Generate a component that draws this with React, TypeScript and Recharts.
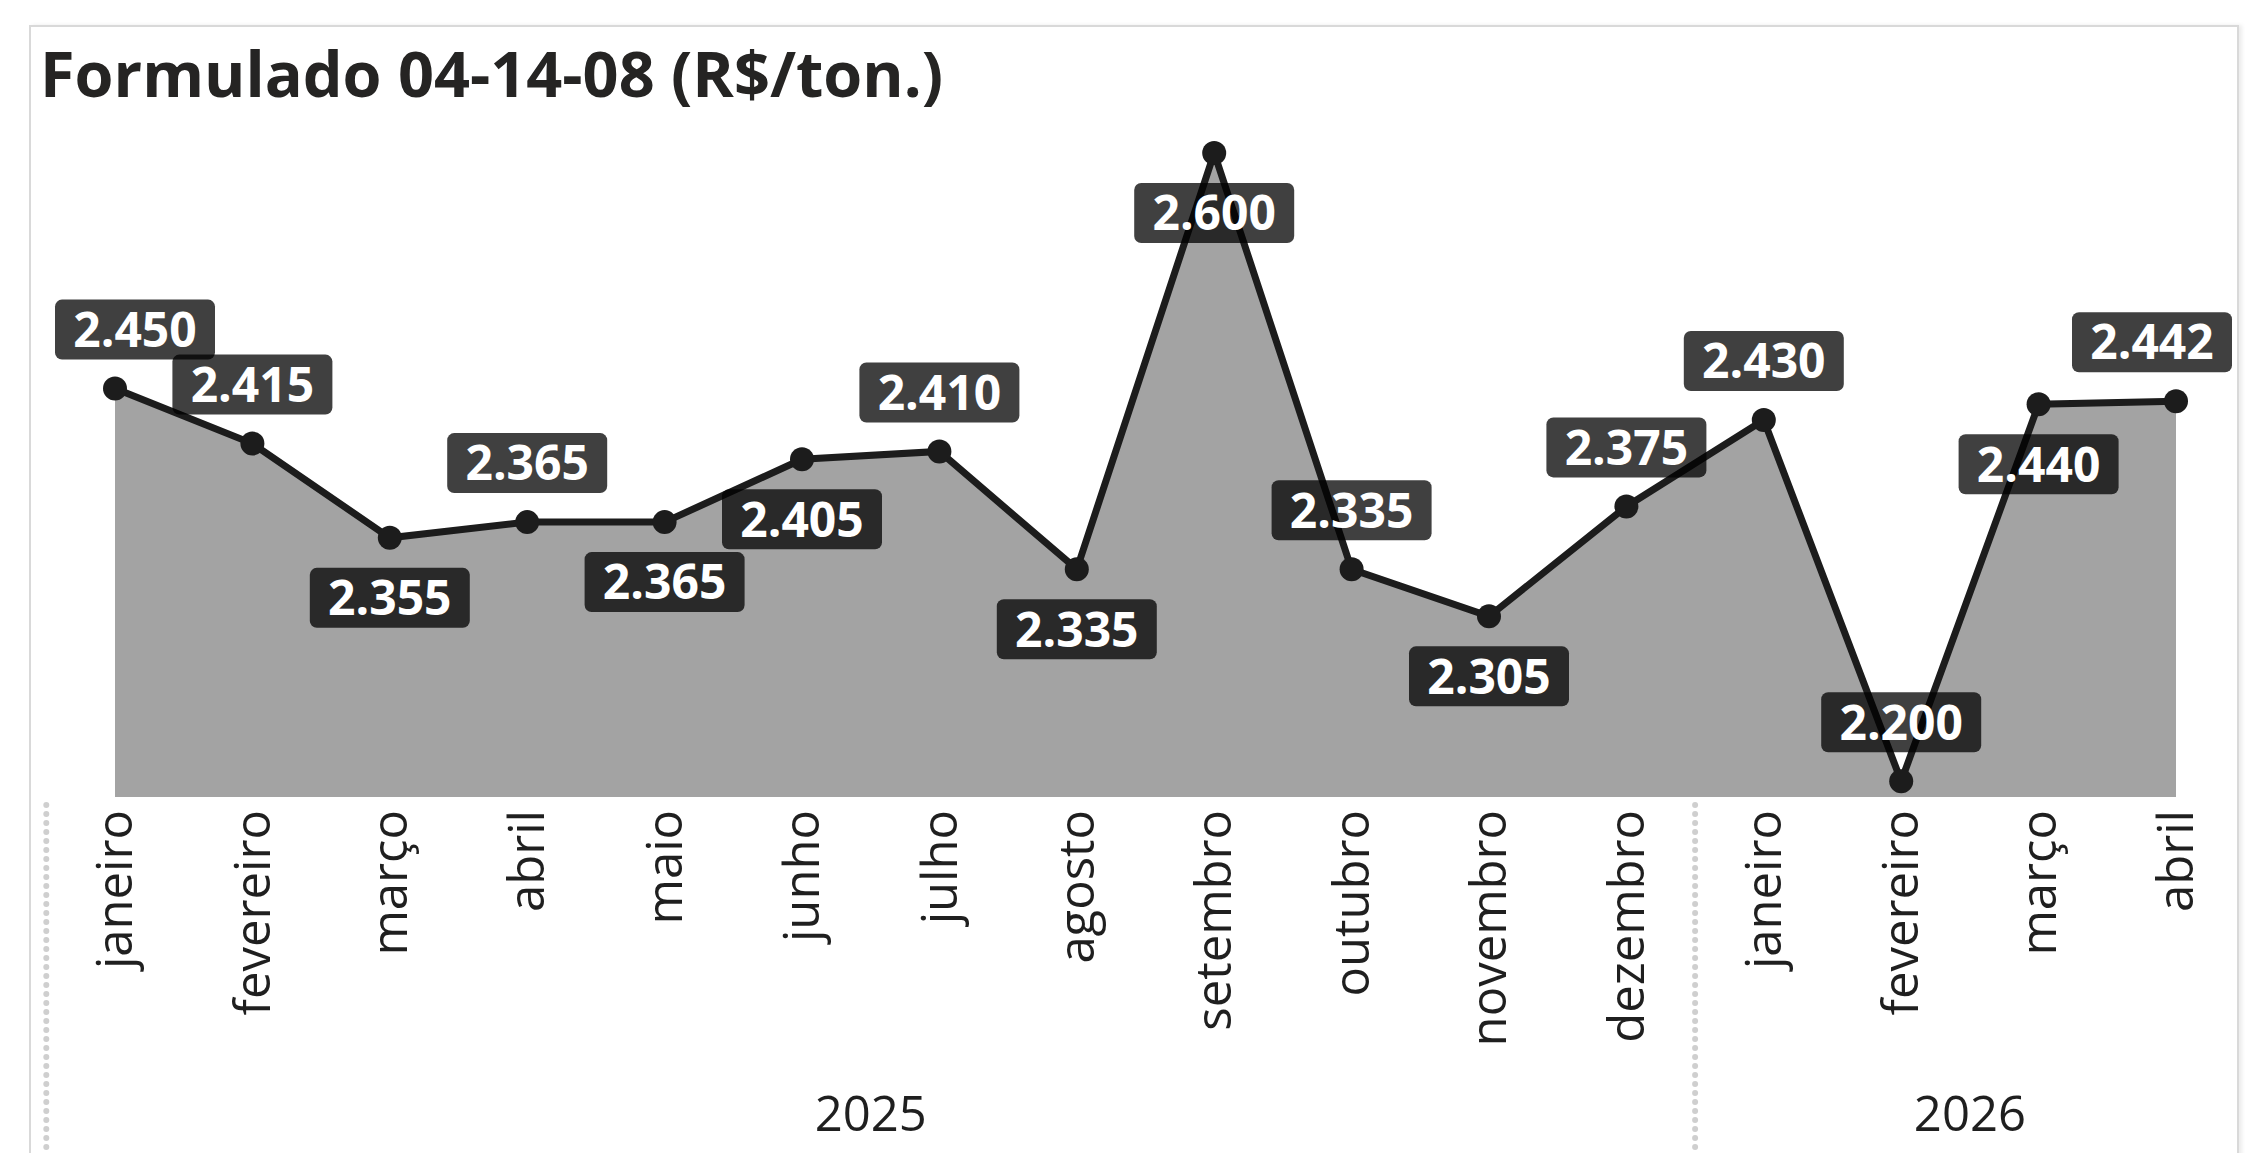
import React from 'react'
import { Area, AreaChart, LabelList, XAxis, YAxis } from 'recharts'

const months = [
  'janeiro',
  'fevereiro',
  'março',
  'abril',
  'maio',
  'junho',
  'julho',
  'agosto',
  'setembro',
  'outubro',
  'novembro',
  'dezembro',
  'janeiro',
  'fevereiro',
  'março',
  'abril',
]

const years = [
  '2025', '2025', '2025', '2025', '2025', '2025', '2025', '2025',
  '2025', '2025', '2025', '2025', '2026', '2026', '2026', '2026',
]

// R$/ton
const prices = [
  2450, 2415, 2355, 2365, 2365, 2405, 2410, 2335,
  2600, 2335, 2305, 2375, 2430, 2200, 2440, 2442,
]

// which side of the point the data label sits on
const labelAbove = [
  true, true, false, true, false, false, true, false,
  false, true, false, true, true, true, false, true,
]

const data = months.map((month, i) => ({
  key: `${years[i]}-${i}`,
  month,
  year: years[i],
  price: prices[i],
}))

const W = 2260
const H = 1153
const MARGIN = { top: 153, right: 84, left: 115, bottom: 96 }
const AXIS_H = 260
const PLOT_W = W - MARGIN.left - MARGIN.right
const STEP = PLOT_W / (months.length - 1)
const FONT = '"Open Sans", "DejaVu Sans", sans-serif'

const fmt = (v: number) =>
  `${Math.floor(v / 1000)}.${String(v % 1000).padStart(3, '0')}`

const BOX_W = 160
const BOX_H = 60

const PriceLabel = (props: any) => {
  const { x, y, value, index } = props
  const cy = labelAbove[index] ? y - 59 : y + 60
  const cx = Math.min(Math.max(x, 55 + BOX_W / 2), 2232 - BOX_W / 2)
  return (
    <g>
      <rect
        x={cx - BOX_W / 2}
        y={cy - BOX_H / 2}
        width={BOX_W}
        height={BOX_H}
        rx={7}
        fill="#000"
        fillOpacity={0.75}
      />
      <text
        x={cx}
        y={cy}
        dy="0.36em"
        textAnchor="middle"
        fill="#fff"
        fontSize={48}
        fontWeight={700}
        fontFamily={FONT}
      >
        {fmt(value)}
      </text>
    </g>
  )
}

const MonthTick = (props: any) => {
  const { x, y, payload } = props
  const i = payload.index
  const isFirstOfYear = i === 0 || years[i] !== years[i - 1]
  const count = years.filter((yr) => yr === years[i]).length
  return (
    <g>
      <text
        transform={`translate(${x}, ${y}) rotate(-90)`}
        textAnchor="end"
        dy="0.35em"
        fontSize={49}
        fill="#1f1f1f"
        fontFamily={FONT}
      >
        {months[i]}
      </text>
      {isFirstOfYear && (
        <>
          <line
            x1={x - STEP / 2}
            x2={x - STEP / 2}
            y1={y - 5}
            y2={H}
            stroke="#cfcfcf"
            strokeWidth={6}
            strokeLinecap="round"
            strokeDasharray="0 9"
          />
          <text
            x={x + ((count - 1) / 2) * STEP}
            y={y + 321}
            textAnchor="middle"
            fontSize={49}
            fill="#1f1f1f"
            fontFamily={FONT}
          >
            {years[i]}
          </text>
        </>
      )}
    </g>
  )
}

const App = () => {
  return (
    <div
      style={{
        position: 'absolute',
        left: 0,
        top: 0,
        width: W,
        height: H,
        overflow: 'hidden',
        background: '#fff',
      }}
    >
      <div
        style={{
          position: 'absolute',
          left: 29,
          top: 25,
          width: 2206,
          height: 1200,
          border: '2px solid #d9d9d9',
          boxShadow: '3px 0 4px rgba(0,0,0,0.08)',
        }}
      />
      <div
        style={{
          position: 'absolute',
          left: 40,
          top: 41,
          fontFamily: FONT,
          fontWeight: 700,
          fontSize: 63,
          lineHeight: 1,
          color: '#252423',
          whiteSpace: 'nowrap',
        }}
      >
        Formulado 04-14-08 (R$/ton.)
      </div>
      <div style={{ position: 'absolute', left: 0, top: 0 }}>
        <AreaChart width={W} height={H} data={data} margin={MARGIN}>
          <XAxis
            dataKey="key"
            type="category"
            height={AXIS_H}
            axisLine={false}
            tickLine={false}
            tickSize={0}
            tickMargin={13}
            interval={0}
            tick={<MonthTick />}
          />
          <YAxis hide type="number" domain={[2190, 2600]} />
          <Area
            type="linear"
            dataKey="price"
            stroke="#1c1c1c"
            strokeWidth={7}
            fill="#a3a3a3"
            fillOpacity={1}
            dot={{ r: 12, fill: '#1c1c1c', stroke: '#1c1c1c', strokeWidth: 0 }}
            activeDot={false}
            isAnimationActive={false}
          >
            <LabelList dataKey="price" content={<PriceLabel />} />
          </Area>
        </AreaChart>
      </div>
    </div>
  )
}

export default App
